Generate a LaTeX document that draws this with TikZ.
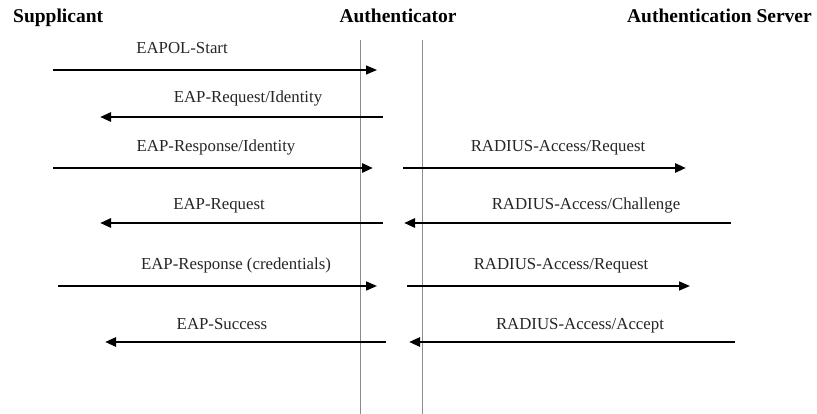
\documentclass[tikz,border=0pt]{standalone}
\usepackage{fontspec}
\setmainfont{Liberation Serif}
\usetikzlibrary{arrows.meta}
\begin{document}
\begin{tikzpicture}[x=1pt,y=-1pt,
  header/.style={font=\fontsize{19.5}{22}\selectfont\bfseries, inner sep=0pt, anchor=base},
  msg/.style={font=\fontsize{16.8}{20}\selectfont, text=black!85, inner sep=0pt, anchor=base},
  lifeline/.style={draw=black!45, line width=1pt},
  arr/.style={-{Triangle[length=11pt,width=9pt]}, line width=2.7pt},
  thinarr/.style={-{Triangle[length=11pt,width=9pt]}, line width=1.2pt},
  medarr/.style={-{Triangle[length=11pt,width=9pt]}, line width=1.7pt}]
\useasboundingbox (0,0) rectangle (817,414);
\fill[white] (0,0) rectangle (817,414);
% headers
\node[header, anchor=base west] (sup) at (13,23) {Supplicant};
\node[header] (auth) at (398,23) {Authenticator};
\node[header, anchor=base east] (srv) at (812,23) {Authentication Server};
% lifelines
\coordinate (l1t) at (360,40); \coordinate (l1b) at (360,414);
\coordinate (l2t) at (422,40); \coordinate (l2b) at (422,414);
\draw[lifeline] (l1t) -- (l1b);
\draw[lifeline] (l2t) -- (l2b);
% row 1
\coordinate (a1s) at (53,70); \coordinate (a1e) at (377,70);
\draw[thinarr] (a1s) -- (a1e);
\node[msg] (t1) at (182,54) {EAPOL-Start};
% row 2
\coordinate (a2s) at (383,117); \coordinate (a2e) at (100,117);
\draw[arr] (a2s) -- (a2e);
\node[msg] (t2) at (248,103) {EAP-Request/Identity};
% row 3
\coordinate (a3s) at (53,168); \coordinate (a3e) at (373,168);
\draw[arr] (a3s) -- (a3e);
\node[msg] (t3) at (216,152) {EAP-Response/Identity};
\coordinate (b3s) at (403,168); \coordinate (b3e) at (686,168);
\draw[arr] (b3s) -- (b3e);
\node[msg] (u3) at (558,152) {RADIUS-Access/Request};
% row 4
\coordinate (a4s) at (383,223); \coordinate (a4e) at (100,223);
\draw[arr] (a4s) -- (a4e);
\node[msg] (t4) at (219,210) {EAP-Request};
\coordinate (b4s) at (731,223); \coordinate (b4e) at (404,223);
\draw[arr] (b4s) -- (b4e);
\node[msg] (u4) at (586,210) {RADIUS-Access/Challenge};
% row 5
\coordinate (a5s) at (58,286); \coordinate (a5e) at (377,286);
\draw[medarr] (a5s) -- (a5e);
\node[msg] (t5) at (236,270) {EAP-Response (credentials)};
\coordinate (b5s) at (407,286); \coordinate (b5e) at (690,286);
\draw[medarr] (b5s) -- (b5e);
\node[msg] (u5) at (561,270) {RADIUS-Access/Request};
% row 6
\coordinate (a6s) at (386,342); \coordinate (a6e) at (105,342);
\draw[arr] (a6s) -- (a6e);
\node[msg] (t6) at (222,329) {EAP-Success};
\coordinate (b6s) at (735,342); \coordinate (b6e) at (409,342);
\draw[arr] (b6s) -- (b6e);
\node[msg] (u6) at (580,329) {RADIUS-Access/Accept};
\end{tikzpicture}
\end{document}
